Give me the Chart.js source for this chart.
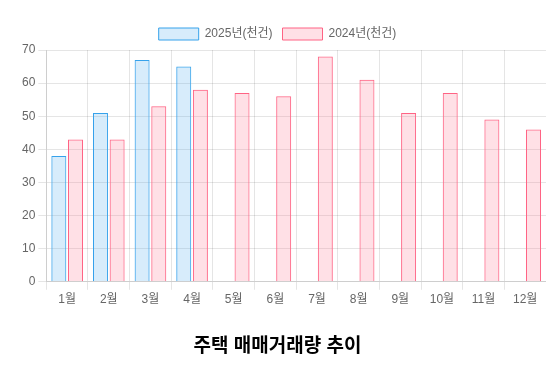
<!DOCTYPE html>
<html><head><meta charset="utf-8">
<script src="https://cdn.jsdelivr.net/npm/chart.js@4"></script>
<style>html,body{margin:0;padding:0;background:#fff}#wrap{width:546px;height:375px}</style>
</head><body><div id="wrap"><canvas id="c"></canvas></div>
<script>
const categories = ['1월','2월','3월','4월','5월','6월','7월','8월','9월','10월','11월','12월'];
const series2025 = [38, 51, 67, 65];
const series2024 = [43, 43, 53, 58, 57, 56, 68, 61, 51, 57, 49, 46];
const label2025 = '2025년(천건)';
const label2024 = '2024년(천건)';
const titleText = '주택 매매거래량 추이';

Chart.defaults.font.family = "'Liberation Sans', 'Noto Sans CJK KR', sans-serif";
new Chart(document.getElementById('c'), {
  type: 'bar',
  data: {
    labels: categories,
    datasets: [
      { label: label2025, data: series2025, backgroundColor: 'rgba(54,162,235,0.2)', borderColor: 'rgb(54,162,235)', borderWidth: 1 },
      { label: label2024, data: series2024, backgroundColor: 'rgba(255,99,132,0.2)', borderColor: 'rgb(255,99,132)', borderWidth: 1 }
    ]
  },
  options: {
    responsive: true, maintainAspectRatio: false, animation: false,
    layout: { padding: { top: 18, bottom: 7, left: 9 } },
    scales: {
      y: { min: 0, max: 70, ticks: { stepSize: 10 }, afterFit: (s) => { s.width += 10; } },
      x: {}
    },
    plugins: {
      legend: { position: 'top' },
      title: { display: true, text: titleText, position: 'bottom', font: { size: 19, weight: 'bold' }, color: '#000', padding: { top: 25, bottom: 10 } }
    }
  }
});
</script></body></html>
